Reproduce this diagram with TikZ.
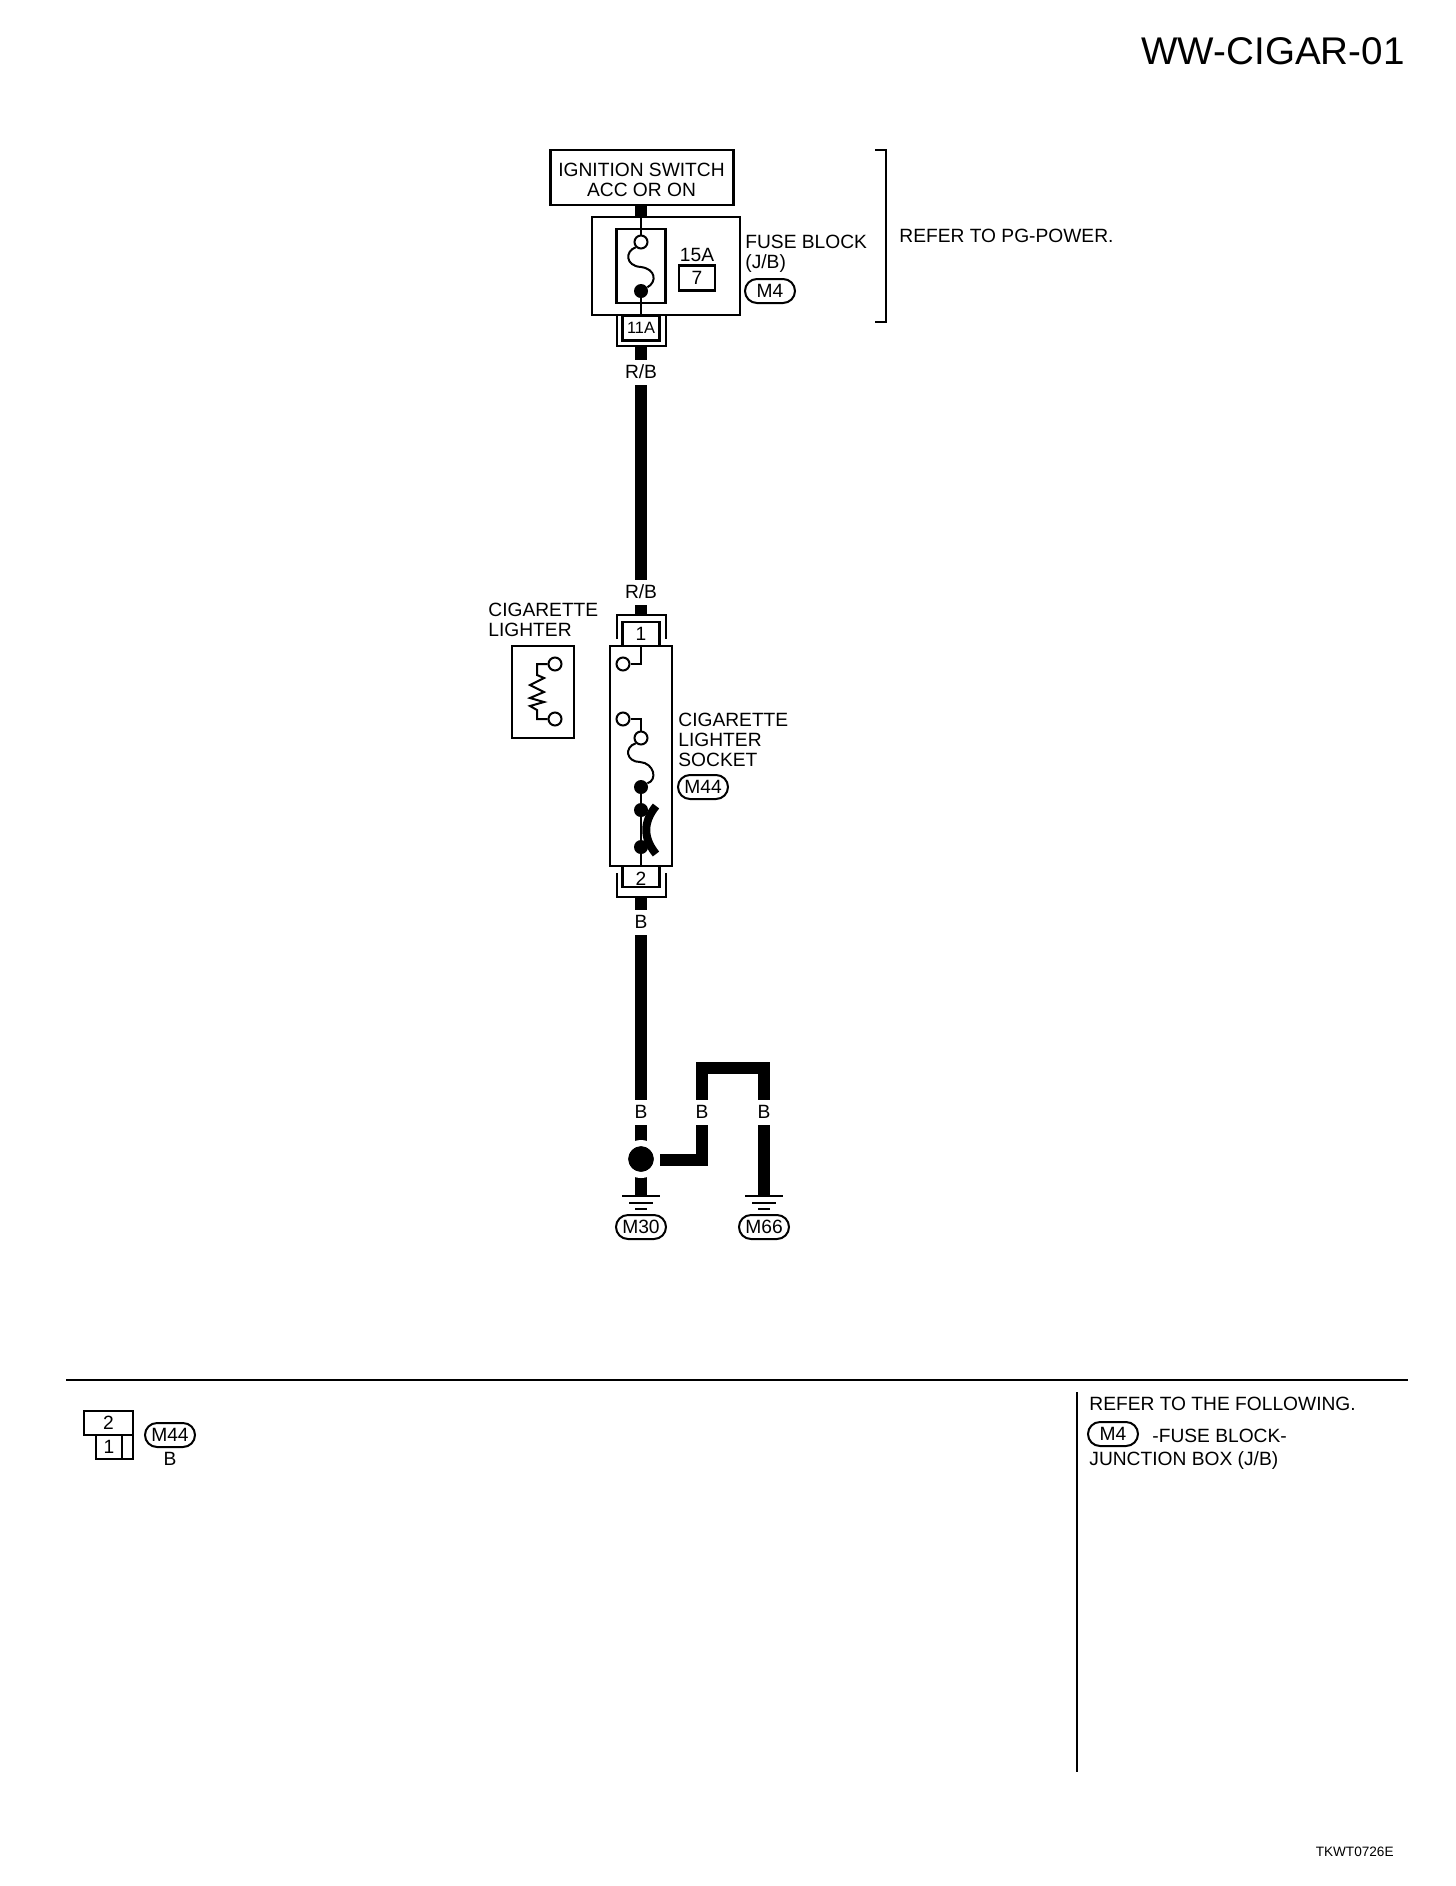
\documentclass[tikz,border=0pt]{standalone}
\usepackage{fontspec}
\setmainfont{Liberation Sans}
\usetikzlibrary{positioning}
\tikzset{
    txt/.style={font=\fontsize{9.6}{10}\selectfont, inner sep=0pt},
    wirelabel/.style={txt, fill=white, minimum width=26pt, minimum height=12.5pt},
    box/.style={draw, line width=1.1pt, inner sep=0pt},
    tagoval/.style={txt, draw, line width=1pt, rounded corners=6pt, minimum width=25pt, minimum height=12pt},
    wire/.style={line width=6pt},
    thinwire/.style={line width=1pt},
    opendot/.style={circle, draw, line width=1pt, fill=white, minimum size=6.5pt, inner sep=0pt},
    fulldot/.style={circle, fill=black, minimum size=7pt, inner sep=0pt},
    earthbar/.style={line width=1pt}
}
\begin{document}
\begin{tikzpicture}[x=0.5pt, y=-0.5pt]
    \useasboundingbox (0,0) rectangle (1456,1886);

    % Title
    \node[font=\fontsize{19.3}{21}\selectfont, inner sep=0pt, anchor=east] (title) at (1405,51) {WW-CIGAR-01};

    % Wires
    \coordinate (mainline) at (641,0);
    \node[box, minimum width=91.5pt, minimum height=27.5pt] (ignition) at (642,177.5) {};
    \node[txt, align=center] (ignitionlabel) at (641.5,179.5) {IGNITION SWITCH\\ACC OR ON};
    \node[box, minimum width=74pt, minimum height=49pt] (fuseblock) at (666,266) {};
    \node[box, minimum width=18.5pt, minimum height=12.5pt, font=\fontsize{8.2}{10}\selectfont] (conn11a) at (641,328) {11A};
    \node[box, minimum width=18.5pt, minimum height=12pt, txt] (conn1) at (641,634) {1};
    \node[box, minimum width=31pt, minimum height=110pt] (socket) at (641,756) {};
    \node[box, minimum width=18.5pt, minimum height=10.5pt] (conn2) at (641,876.5) {};
    \node[txt] (conn2num) at (641,879) {2};
    \node[circle, fill=black, minimum size=13pt, inner sep=0pt] (splice) at (641,1159) {};
    \coordinate (earthL) at (641,1196);
    \coordinate (earthR) at (764,1196);
    \coordinate (riseL) at (702,1160);
    \coordinate (topL) at (702,1068);
    \coordinate (topR) at (764,1068);

    \draw[wire] (mainline |- ignition.south) -- (mainline |- fuseblock.north);
    \draw[wire] (641,346) -- (641,615);
    \draw[wire] (641,897) -- (splice.north);
    \draw[wire] (splice.south) -- (earthL);
    \draw[wire] (660,1160) -- (riseL) -- (topL) -- (topR) -- (earthR);

    % Halo round the splice
    \draw[white, line width=3pt] (splice) circle (16);

    % Wire colours
    \node[wirelabel] (rb1) at (641,372) {R/B};
    \node[wirelabel] (rb2) at (641,592) {R/B};
    \node[wirelabel] (b1) at (641,922) {B};
    \node[wirelabel] (b2) at (641,1112) {B};
    \node[wirelabel] (b3) at (702,1112) {B};
    \node[wirelabel] (b4) at (764,1112) {B};

    % Fuse block
    \node[box, minimum width=24.5pt, minimum height=37pt] (fusecase) at (641,266) {};
    \node[opendot] (fusetop) at (641,242) {};
    \node[fulldot] (fusebot) at (641,291) {};
    \draw[thinwire] (fuseblock.north -| fusetop) -- (fusetop);
    \draw[thinwire] (fusebot) -- (fuseblock.south -| fusebot);
    \draw[thinwire] (fusetop.225) .. controls (625,251) and (625,266) .. (641,267) .. controls (656,269) and (657,282) .. (fusebot.30);
    \node[txt] (amps) at (697,255) {15A};
    \node[box, minimum width=18pt, minimum height=12.5pt, txt] (fuse7) at (697,278) {7};
    \node[txt, align=left, anchor=west] (fuselabel) at (745,254) {FUSE BLOCK\\(J/B)};
    \node[tagoval] (m4) at (770,291) {M4};
    \draw[line width=1.4pt] (875,150) -- (886,150) -- (886,322) -- (875,322);
    \node[txt, anchor=west] (refer) at (899,236) {REFER TO PG-POWER.};

    % Connector 11A
    \draw[thinwire] (617,315) -- (617,346) -- (666,346) -- (666,315);

    % Connector 1
    \draw[thinwire] (617,639) -- (617,615) -- (666,615) -- (666,639);

    % Cigarette lighter
    \node[txt, align=left, anchor=west] (lighterlabel) at (488,620) {CIGARETTE\\LIGHTER};
    \node[box, minimum width=31pt, minimum height=46pt] (lighter) at (543,692) {};
    \node[opendot] (lightertop) at (555,664) {};
    \node[opendot] (lighterbot) at (555,719) {};
    \draw[thinwire] (lightertop) -- (537,664) -- (537,675) -- (544,678) -- (530,685) -- (544,692) -- (530,698) -- (544,702) -- (530,706) -- (537,710) -- (537,719) -- (lighterbot);

    % Socket
    \node[opendot] (socket1) at (623,664) {};
    \node[opendot] (socket2) at (623,719) {};
    \node[opendot] (element) at (641,738) {};
    \node[fulldot] (spring) at (641,787) {};
    \node[fulldot] (clip1) at (641,810) {};
    \node[fulldot] (clip2) at (641,847) {};
    \draw[thinwire] (socket1) -- (641,664) -- (conn1.south);
    \draw[thinwire] (socket2) -- (641,719) -- (element);
    \draw[thinwire] (element.225) .. controls (624,747) and (626,762) .. (640,762) .. controls (654,763) and (658,780) .. (spring.30);
    \draw[thinwire] (spring) -- (clip1) -- (clip2) -- (conn2.north);
    \draw[line width=4pt] (656,806) .. controls (643,822) and (643,838) .. (656,854);
    \draw[line width=3pt] (clip1) -- (652,816);
    \draw[line width=3pt] (clip2) -- (652,845);
    \node[txt, align=left, anchor=west] (socketlabel) at (678,740) {CIGARETTE\\LIGHTER\\SOCKET};
    \node[tagoval] (m44) at (703,787) {M44};

    % Connector 2
    \draw[thinwire] (617,873) -- (617,897) -- (666,897) -- (666,873);

    % Earths
    \draw[earthbar] (622,1196) -- (660,1196);
    \draw[earthbar] (629,1203) -- (653,1203);
    \draw[earthbar] (635,1209) -- (647,1209);
    \draw[earthbar] (745,1196) -- (783,1196);
    \draw[earthbar] (752,1203) -- (776,1203);
    \draw[earthbar] (758,1209) -- (770,1209);
    \node[tagoval] (m30) at (641,1227) {M30};
    \node[tagoval] (m66) at (764,1227) {M66};

    % Lower panel
    \draw[line width=1.2pt] (66,1380) -- (1408,1380);
    \draw[line width=1.2pt] (1077,1392) -- (1077,1772);

    % Connector view
    \node[box, minimum width=24.5pt, minimum height=12pt, txt] (view2) at (108.5,1423) {2};
    \node[box, minimum width=13pt, minimum height=12pt, txt] (view1) at (109,1447) {1};
    \node[box, minimum width=5.5pt, minimum height=12pt] (viewcell) at (127.5,1447) {};
    \node[tagoval] (m44b) at (170,1435) {M44};
    \node[txt] (viewb) at (170,1459) {B};

    % Notes
    \node[txt, anchor=west] (following) at (1089,1404) {REFER TO THE FOLLOWING.};
    \node[tagoval] (m4b) at (1113,1434) {M4};
    \node[txt, anchor=west] (fusenote) at (1152,1436) {-FUSE BLOCK-};
    \node[txt, anchor=west] (jbnote) at (1089,1461) {JUNCTION BOX (J/B)};

    % Code
    \node[font=\fontsize{6.8}{8}\selectfont, inner sep=0pt, anchor=east] (code) at (1394,1852) {TKWT0726E};
\end{tikzpicture}
\end{document}
